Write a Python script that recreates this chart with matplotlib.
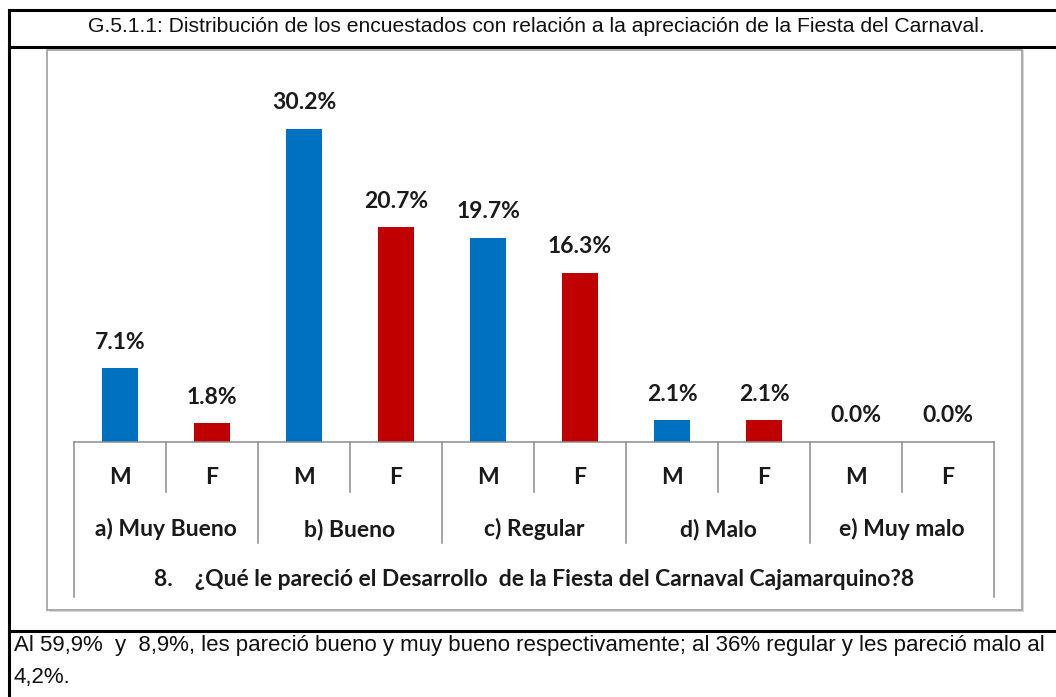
import matplotlib
matplotlib.use("Agg")
import matplotlib.pyplot as plt
from matplotlib.patches import Rectangle
from matplotlib.lines import Line2D
import matplotlib.transforms as mtransforms

# data
groups = ["a) Muy Bueno", "b) Bueno", "c) Regular", "d) Malo", "e) Muy malo"]
sexes = ["M", "F"]
male = [7.1, 30.2, 19.7, 2.1, 0.0]
female = [1.8, 20.7, 16.3, 2.1, 0.0]

title = "G.5.1.1: Distribución de los encuestados con relación a la apreciación de la Fiesta del Carnaval."
axis_title = "8.    ¿Qué le pareció el Desarrollo  de la Fiesta del Carnaval Cajamarquino?8"
note_1 = "Al 59,9%  y  8,9%, les pareció bueno y muy bueno respectivamente; al 36% regular y les pareció malo al"
note_2 = "4,2%."

BLUE = "#0070C0"
RED = "#C00000"
W, H = 1056, 697


def fx(px):
    return px / W


def fy(py):
    return 1 - py / H


fig = plt.figure(figsize=(W / 100, H / 100), dpi=100)

# outer table lines
for (x0, y0, x1, y1) in [(9, 10, W, 10), (9, 47, W, 47), (9, 631, W, 631), (9, 10, 9, H)]:
    fig.add_artist(Line2D([fx(x0), fx(x1)], [fy(y0), fy(y1)], color="black", lw=2.2))

fig.text(fx(536), fy(26), title, ha="center", va="center",
         fontsize=15.2, family="Liberation Sans", color="#111111")
fig.text(fx(14), fy(646), note_1, ha="left", va="center",
         fontsize=16.0, family="Liberation Sans", color="#111111")
fig.text(fx(14), fy(677), note_2, ha="left", va="center",
         fontsize=16.0, family="Liberation Sans", color="#111111")

# chart frame with shadow
fig.add_artist(Rectangle((fx(49), fy(612)), fx(975), 562 / H, facecolor="#d8d8d8",
                         edgecolor="none", zorder=0))
fig.add_artist(Rectangle((fx(47), fy(610)), fx(975), 560 / H, facecolor="white",
                         edgecolor="#a6a6a6", lw=1.3, zorder=1))

# plot area
base_px, top_px = 442, 79
ax = fig.add_axes([fx(74), fy(base_px), fx(994 - 74), (base_px - top_px) / H], zorder=2)
ax.patch.set_alpha(0)

n = len(groups) * len(sexes)
xs = list(range(n))
vals, cols, labs = [], [], []
for m, f in zip(male, female):
    vals += [m, f]
    cols += [BLUE, RED]
    labs += sexes

ax.bar(xs, vals, width=0.39, color=cols)
ax.set_xlim(-0.5, n - 0.5)
ax.set_ylim(0, 35)
for x, v in zip(xs, vals):
    ax.annotate(f"{v:.1f}%", (x, v), xytext=(0, 26), textcoords="offset pixels",
                ha="center", va="center", fontsize=16.5, family="Lato",
                fontweight="bold", color="#1a1a1a")
for s in ax.spines.values():
    s.set_visible(False)
ax.set_xticks([])
ax.set_yticks([])

# category table under the axis
tr = mtransforms.blended_transform_factory(ax.transData, fig.transFigure)
line_kw = dict(color="#8c8c8c", lw=1.1, transform=tr, clip_on=False)
ax.add_line(Line2D([-0.5, n - 0.5], [fy(base_px)] * 2, **line_kw))
for k in range(n + 1):
    xb = k - 0.5
    if k in (0, n):
        yb = 597
    elif k % 2 == 0:
        yb = 543
    else:
        yb = 492
    ax.add_line(Line2D([xb, xb], [fy(base_px), fy(yb)], **line_kw))

txt_kw = dict(transform=tr, ha="center", va="center", family="Lato",
              fontweight="bold", color="#1a1a1a", clip_on=False)
for x, s in zip(xs, labs):
    ax.text(x, fy(478), s, fontsize=16.5, **txt_kw)
for g, name in enumerate(groups):
    ax.text(2 * g + 0.5, fy(529), name, fontsize=16.5, **txt_kw)
ax.text((n - 1) / 2, fy(580), axis_title, fontsize=16.5, **txt_kw)

fig.savefig("out.png", dpi=100)
